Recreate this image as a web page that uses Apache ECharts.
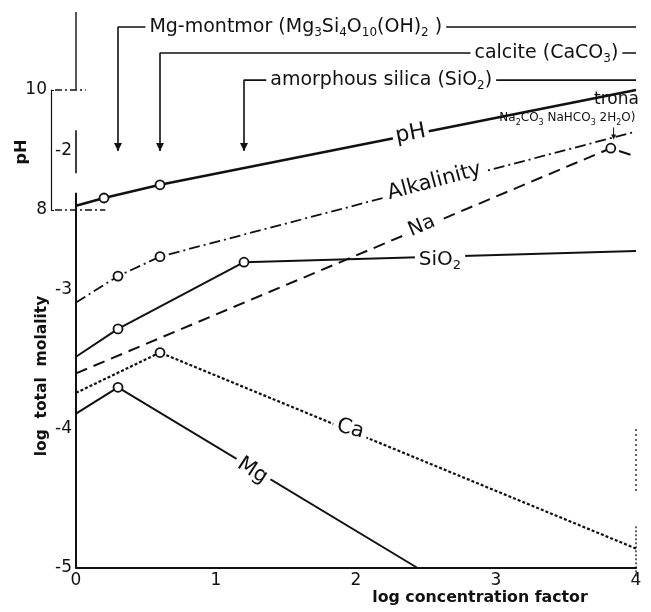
<!DOCTYPE html>
<html>
<head>
<meta charset="utf-8">
<script src="https://cdn.jsdelivr.net/npm/echarts@6/dist/echarts.min.js"></script>
<style>
  html, body { margin: 0; padding: 0; background: #fff; }
  #chart { width: 651px; height: 612px; }
</style>
</head>
<body>
<div id="chart"></div>
<script>
// x = log concentration factor, y = log total molality (pH on its own small axis)
var phX = [0, 0.2, 0.6, 4];
var phY = [8.07, 8.2, 8.42, 10.0];
var phRing = [0, 1, 1, 0];

var alkX = [0, 0.3, 0.6, 4];
var alkY = [-3.09, -2.9, -2.76, -1.86];
var alkRing = [0, 1, 1, 0];

var sioX = [0, 0.3, 1.2, 4];
var sioY = [-3.48, -3.28, -2.8, -2.72];
var sioRing = [0, 1, 1, 0];

var naX = [0, 3.82, 4];
var naY = [-3.6, -1.98, -2.04];
var naRing = [0, 1, 0];

var caX = [0, 0.6, 4];
var caY = [-3.74, -3.45, -4.86];
var caRing = [0, 1, 0];

var mgX = [0, 0.3, 2.44];
var mgY = [-3.89, -3.7, -5];
var mgRing = [0, 1, 0];

// minerals that start to precipitate (arrow position and bracket level)
var minerals = [
  '{n|Mg-montmor (Mg}{s|3}{n|Si}{s|4}{n|O}{s|10}{n|(OH)}{s|2}{n| )}',
  '{n|calcite (CaCO}{s|3}{n|)}',
  '{n|amorphous silica (SiO}{s|2}{n|)}'
];
var mineralX = [0.3, 0.6, 1.2];
var mineralLevel = [-1.108, -1.295, -1.49];
var mineralLblX = [1.57, 3.36, 2.18];

var xTicks = [0, 1, 2, 3, 4];
var yTicks = [-5, -4, -3, -2];
var phTicks = [8, 10];

// curve labels (text, anchor x, anchor y, rotation, size)
var lblText = ['Alkalinity', 'Na', '{n|SiO}{s|2}', 'Ca', 'Mg'];
var lblX = [2.56, 2.47, 2.6, 1.96, 1.26];
var lblY = [-2.22, -2.54, -2.78, -4.0, -4.30];
var lblRot = [15, 23, 0, -15, -33];
var lblSize = [21, 20, 20, 21, 21];

var FONT = 'DejaVu Sans';
var INK = '#111';
var phLeft = 51, plotLeft = 76, unit = 140;

function pts(xs, ys, ring) {
  return xs.map(function (x, i) {
    return { value: [x, ys[i]], symbol: ring[i] ? 'circle' : 'none' };
  });
}

function curve(name, xs, ys, ring, type, width, axis) {
  return {
    name: name, type: 'line', xAxisIndex: axis, yAxisIndex: axis,
    data: pts(xs, ys, ring),
    symbol: 'circle', symbolSize: 9, showAllSymbol: true,
    lineStyle: { color: INK, width: width, type: type },
    itemStyle: { color: '#fff', borderColor: INK, borderWidth: 1.8 },
    z: 3, silent: true, clip: false
  };
}

function seg(data, type, width, axis) {
  return {
    type: 'line', xAxisIndex: axis || 0, yAxisIndex: axis || 0,
    data: data, symbol: 'none', clip: false, silent: true,
    lineStyle: { color: INK, width: width, type: type }, z: 2
  };
}

function rich(size, sub) {
  return {
    n: { fontSize: size, lineHeight: size + 5, color: INK, fontFamily: FONT },
    s: { fontSize: sub, lineHeight: sub, verticalAlign: 'bottom', color: INK, fontFamily: FONT }
  };
}

var series = [
  curve('pH', phX, phY, phRing, 'solid', 2.6, 1),
  curve('Alkalinity', alkX, alkY, alkRing, [11, 4, 2, 4], 1.8, 0),
  curve('SiO2', sioX, sioY, sioRing, 'solid', 2, 0),
  curve('Na', naX, naY, naRing, [12, 7], 2, 0),
  curve('Ca', caX, caY, caRing, [3, 2], 2.2, 0),
  curve('Mg', mgX, mgY, mgRing, 'solid', 2, 0),
  // broken molality axis
  seg([[0, -5], [0, -2.3]], 'solid', 2),
  seg([[0, -2.16], [0, -1.85]], 'solid', 1.6),
  seg([[0, -1.56], [0, -1.0]], 'solid', 1.4),
  // right edge marks
  seg([[4, -4.0], [4, -4.45]], [2, 3], 1.3),
  seg([[4, -4.7], [4, -5.06]], [2, 2], 1.3),
  // pH guides
  seg([[-0.15, 10], [0.07, 10]], [7, 3, 2, 3], 1.3, 1),
  seg([[-0.15, 8], [0.21, 8]], [7, 3, 2, 3], 1.3, 1),
  // trona arrow
  {
    type: 'line', data: [
      { value: [3.84, -1.83], symbol: 'none' },
      { value: [3.84, -1.9], symbol: 'triangle', symbolRotate: 180, symbolSize: [5, 5] }
    ],
    lineStyle: { color: INK, width: 1 }, itemStyle: { color: INK }, clip: false, silent: true, z: 2
  }
];

// bracket arrows for the precipitating minerals
mineralX.forEach(function (mx, i) {
  series.push({
    type: 'line', clip: false, silent: true, z: 2,
    data: [
      { value: [mx, -2.0], symbol: 'triangle', symbolRotate: 180, symbolSize: [8, 8], symbolOffset: [0, -4] },
      { value: [mx, mineralLevel[i]], symbol: 'none' },
      { value: [4, mineralLevel[i]], symbol: 'none' }
    ],
    lineStyle: { color: INK, width: 1.6 },
    itemStyle: { color: INK }
  });
});

var hidden = { color: 'rgba(0,0,0,0)', opacity: 1 };

// text on the curves, white box cuts the line like the original lettering
var labelData = lblText.map(function (t, i) {
  return { value: [lblX[i], lblY[i]], label: { formatter: t, rotate: lblRot[i], fontSize: lblSize[i], rich: rich(lblSize[i], 13) } };
});
minerals.forEach(function (m, i) {
  labelData.push({ value: [mineralLblX[i], mineralLevel[i]], label: { formatter: m, rich: rich(19, 12) } });
});
series.push({
  type: 'scatter', data: labelData, symbolSize: 1, itemStyle: hidden, z: 10, silent: true,
  label: { show: true, position: 'inside', color: INK, fontFamily: FONT, backgroundColor: '#fff', padding: [0, 4] }
});
series.push({
  type: 'scatter', xAxisIndex: 1, yAxisIndex: 1, symbolSize: 1, itemStyle: hidden, z: 10, silent: true,
  data: [{ value: [2.39, 9.27], label: { formatter: 'pH', rotate: 11, fontSize: 22 } }],
  label: { show: true, position: 'inside', color: INK, fontFamily: FONT, backgroundColor: '#fff', padding: [0, 3] }
});
series.push({
  type: 'scatter', symbolSize: 1, itemStyle: hidden, z: 10, silent: true,
  data: [
    { value: [3.86, -1.63], label: { formatter: 'trona', fontSize: 17 } },
    { value: [3.51, -1.765], label: { formatter: '{n|Na}{s|2}{n|CO}{s|3}{n| NaHCO}{s|3}{n| 2H}{s|2}{n|O)}', rich: rich(12, 8) } }
  ],
  label: { show: true, position: 'inside', color: INK, fontFamily: FONT }
});

var option = {
  backgroundColor: '#fff',
  animation: false,
  grid: [
    { left: plotLeft, right: 15, top: 12, bottom: 44 },
    { left: phLeft, right: 15, top: 90, bottom: 402 }
  ],
  xAxis: [
    {
      gridIndex: 0, type: 'value', min: xTicks[0], max: xTicks[xTicks.length - 1], interval: 1,
      axisLine: { lineStyle: { color: INK, width: 2.2 } },
      axisTick: { show: false },
      splitLine: { show: false },
      axisLabel: { color: INK, fontSize: 17, margin: 4, fontFamily: FONT }
    },
    { gridIndex: 1, type: 'value', min: -(plotLeft - phLeft) / unit, max: 4, show: false }
  ],
  yAxis: [
    {
      gridIndex: 0, type: 'value', min: yTicks[0], max: -1, interval: 1,
      axisLine: { show: false }, axisTick: { show: false }, splitLine: { show: false },
      axisLabel: { color: INK, fontSize: 17, margin: 4, fontFamily: FONT, showMaxLabel: false }
    },
    {
      gridIndex: 1, type: 'value', min: phTicks[0], max: phTicks[1], interval: 2,
      axisLine: { show: true, onZero: false, lineStyle: { color: INK, width: 1.2 } },
      axisTick: { show: true, inside: true, length: 3, lineStyle: { color: INK } },
      splitLine: { show: false },
      axisLabel: { color: INK, fontSize: 17, margin: 4, fontFamily: FONT }
    }
  ],
  graphic: [
    { type: 'text', x: 480, y: 598, style: { text: 'log concentration factor', fontSize: 15.8, fontWeight: 'bold', fontFamily: FONT, fill: INK, align: 'center', verticalAlign: 'middle' } },
    { type: 'text', x: 42, y: 376, rotation: Math.PI / 2, style: { text: 'log  total  molality', fontSize: 15.5, fontWeight: 'bold', fontFamily: FONT, fill: INK, align: 'center', verticalAlign: 'middle' } },
    { type: 'text', x: 22, y: 152, rotation: Math.PI / 2, style: { text: 'pH', fontSize: 16, fontWeight: 'bold', fontFamily: FONT, fill: INK, align: 'center', verticalAlign: 'middle' } }
  ],
  series: series
};

var myChart = echarts.init(document.getElementById('chart'));
myChart.setOption(option);
</script>
</body>
</html>
